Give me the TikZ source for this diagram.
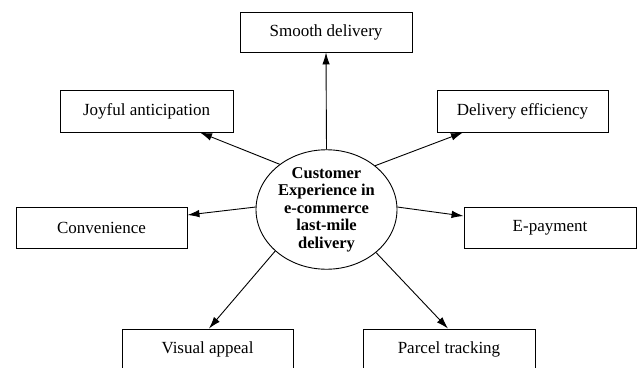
\documentclass[tikz,border=0pt]{standalone}
\usepackage{fontspec}
\setmainfont{Liberation Serif}
\usetikzlibrary{arrows.meta,shapes.geometric}
\begin{document}
\begin{tikzpicture}[x=1pt,y=-1pt,
  box/.style={draw,line width=0.9pt,minimum width=171pt,minimum height=41pt,inner sep=0pt,
    font=\fontsize{17}{18}\selectfont},
  arr/.style={line width=0.9pt,-{Latex[length=12pt,width=7.5pt]}}]
\useasboundingbox (0,0) rectangle (637,367);
\clip (0,0) rectangle (637,367);
\node[draw,ellipse,line width=0.9pt,minimum width=141pt,minimum height=115pt,inner sep=0pt,
  align=center,font=\fontsize{16.5}{17.5}\selectfont\bfseries] (c) at (326.5,209.5)
  {Customer\\Experience in\\e-commerce\\last-mile\\delivery};
\node[box,minimum width=172pt,minimum height=40pt] (smooth) at (326,32) {Smooth delivery};
\node[box,minimum width=173pt,minimum height=42pt] (joy) at (146.5,111) {Joyful anticipation};
\node[box] (conv) at (101.5,227.5) {Convenience};
\node[box,minimum height=42pt] (deff) at (522.5,111) {Delivery efficiency};
\node[box,minimum width=172pt] (epay) at (550,227.5) {E-payment};
\node[box] (vis) at (207.5,349.5) {Visual appeal};
\node[box,minimum width=172pt] (parc) at (449,349.5) {Parcel tracking};
\draw[arr] (c.90) -- (smooth.south);
\draw[arr] (c.136.8) -- ([xshift=53.5pt]joy.south);
\draw[arr] (c.178) -- ([yshift=12.5pt]conv.east);
\draw[arr] (c.42) -- ([xshift=-59.5pt]deff.south);
\draw[arr] (c.2) -- ([yshift=11.5pt]epay.west);
\draw[arr] (c.219.3) -- ([xshift=1.5pt]vis.north);
\draw[arr] (c.319) -- ([xshift=-1pt]parc.north);
\end{tikzpicture}
\end{document}
